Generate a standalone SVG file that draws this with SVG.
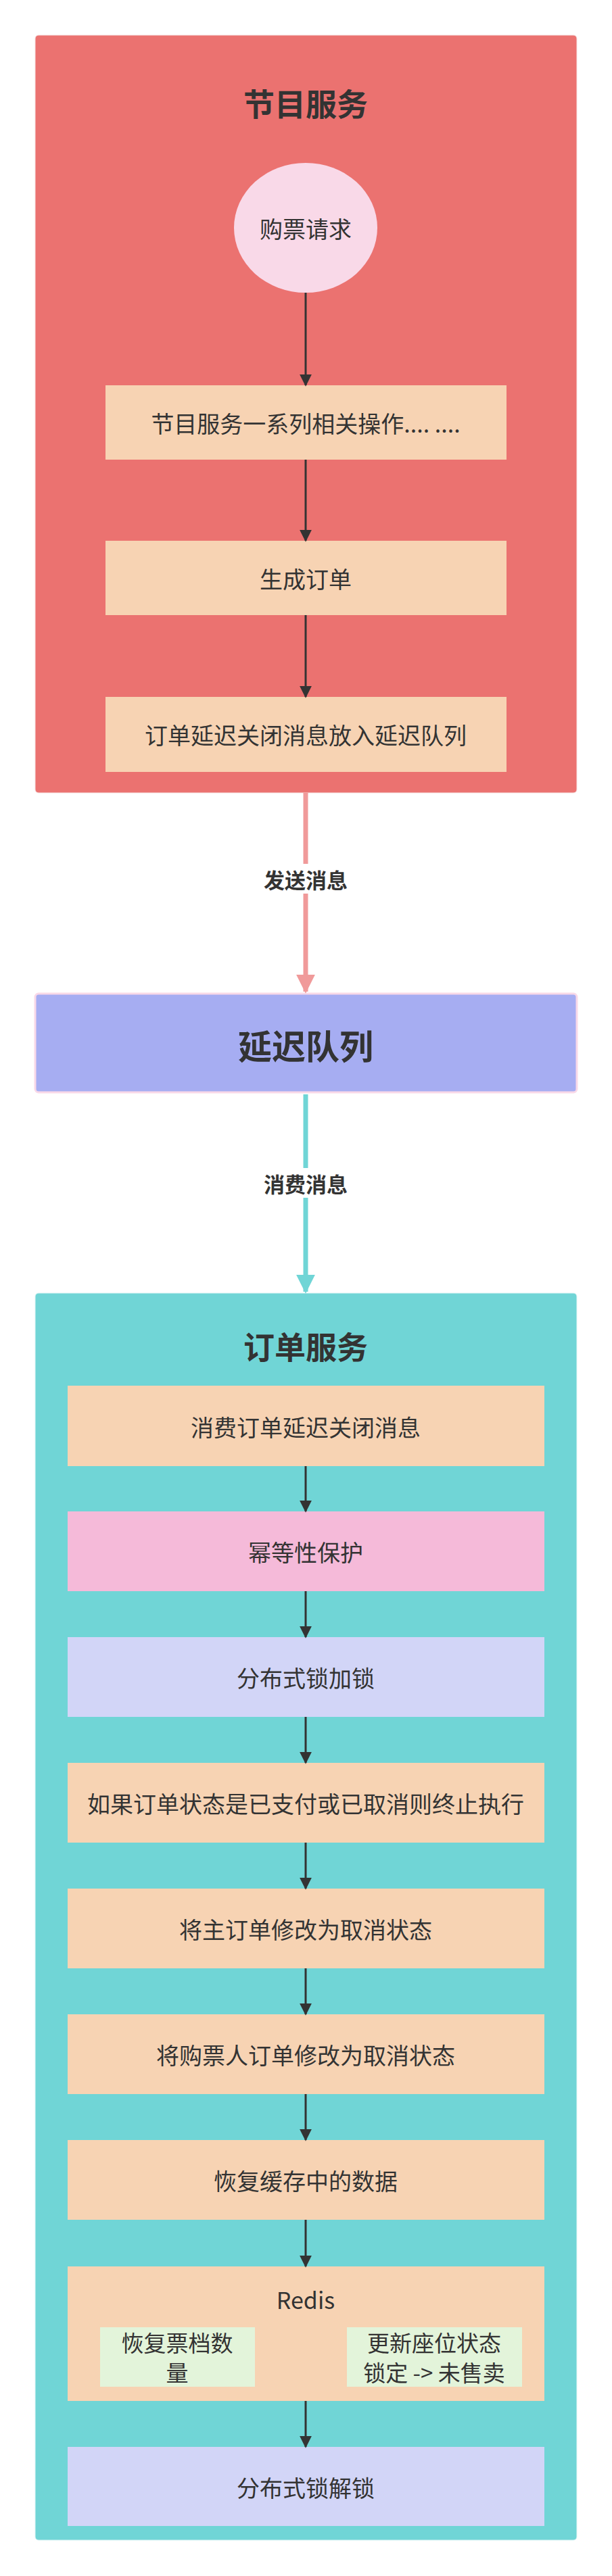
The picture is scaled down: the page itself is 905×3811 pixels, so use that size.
<svg xmlns="http://www.w3.org/2000/svg" width="905" height="3811" viewBox="0 0 905 3811">
<style>
text{font-family:"Noto Sans CJK SC","Liberation Sans",sans-serif;fill:#333;text-anchor:middle;dominant-baseline:central}
.n{font-size:34px}
.s{font-size:33px}
.t{font-size:46px;font-weight:bold}
.l{font-size:31px;font-weight:bold}
.pe{fill:#F7D3B3}
.e{stroke:#333;stroke-width:3;fill:none;marker-end:url(#a)}
</style>
<defs>
<marker id="a" viewBox="0 0 10 10" refX="9" refY="5" markerWidth="6" markerHeight="6" orient="auto"><path d="M0,0L10,5L0,10z" fill="#333"/></marker>
<marker id="r" viewBox="0 0 10 10" refX="9" refY="5" markerWidth="4" markerHeight="4" orient="auto"><path d="M0,0L10,5L0,10z" fill="#F09A9A"/></marker>
<marker id="c" viewBox="0 0 10 10" refX="9" refY="5" markerWidth="4" markerHeight="4" orient="auto"><path d="M0,0L10,5L0,10z" fill="#70D5D6"/></marker>
</defs>
<g id="program-service">
<rect x="52" y="52" width="801" height="1121" rx="5" fill="#EB7270" stroke="#f5e0e0"/>
<text class="t" x="452" y="151">节目服务</text>
</g>
<g id="req"><ellipse cx="452" cy="337" rx="106" ry="96" fill="#F9D9E8"/><text class="n" x="452" y="337">购票请求</text></g>
<g id="p1"><rect class="pe" x="156" y="570" width="593" height="110"/><text class="n" x="452" y="625">节目服务一系列相关操作.... ....</text></g>
<g id="p2"><rect class="pe" x="156" y="800" width="593" height="110"/><text class="n" x="452" y="855">生成订单</text></g>
<g id="p3"><rect class="pe" x="156" y="1031" width="593" height="111"/><text class="n" x="452" y="1086">订单延迟关闭消息放入延迟队列</text></g>
<g id="queue"><rect x="52" y="1470" width="801" height="146" rx="5" fill="#A6ADF2" stroke="#F9D9E8" stroke-width="3"/><text class="t" x="452" y="1545" style="font-size:50px">延迟队列</text></g>
<g id="order-service">
<rect x="52" y="1913" width="801" height="1845" rx="5" fill="#70D5D6" stroke="#e0f5f5"/>
<text class="t" x="452" y="1990">订单服务</text>
</g>
<g id="o1"><rect class="pe" x="100" y="2050" width="705" height="119"/><text class="n" x="452" y="2110">消费订单延迟关闭消息</text></g>
<g id="o2"><rect fill="#F5BAD9" x="100" y="2236" width="705" height="118"/><text class="n" x="452" y="2295">幂等性保护</text></g>
<g id="o3"><rect fill="#D2D5F7" x="100" y="2422" width="705" height="118"/><text class="n" x="452" y="2481">分布式锁加锁</text></g>
<g id="o4"><rect class="pe" x="100" y="2608" width="705" height="118"/><text class="n" x="452" y="2667">如果订单状态是已支付或已取消则终止执行</text></g>
<g id="o5"><rect class="pe" x="100" y="2794" width="705" height="118"/><text class="n" x="452" y="2853">将主订单修改为取消状态</text></g>
<g id="o6"><rect class="pe" x="100" y="2980" width="705" height="118"/><text class="n" x="452" y="3039">将购票人订单修改为取消状态</text></g>
<g id="o7"><rect class="pe" x="100" y="3166" width="705" height="118"/><text class="n" x="452" y="3225">恢复缓存中的数据</text></g>
<g id="redis">
<rect class="pe" x="100" y="3353" width="705" height="199"/>
<text class="n" x="452" y="3401">Redis</text>
<rect fill="#E3F4DA" x="148" y="3443" width="229" height="88"/>
<text class="s" x="262" y="3465">恢复票档数</text><text class="s" x="262" y="3509">量</text>
<rect fill="#E3F4DA" x="513" y="3443" width="259" height="88"/>
<text class="s" x="642" y="3465">更新座位状态</text><text class="s" x="642" y="3509">锁定 -&gt; 未售卖</text>
</g>
<g id="o8"><rect fill="#D2D5F7" x="100" y="3620" width="705" height="117"/><text class="n" x="452" y="3679">分布式锁解锁</text></g>
<g id="connectors">
<line class="e" x1="452" y1="433" x2="452" y2="570"/>
<line class="e" x1="452" y1="680" x2="452" y2="800"/>
<line class="e" x1="452" y1="910" x2="452" y2="1031"/>
<line x1="452" y1="1173" x2="452" y2="1467" stroke="#F09A9A" stroke-width="7" marker-end="url(#r)"/>
<rect x="376" y="1278" width="152" height="44" fill="#fff"/><text class="l" x="452" y="1300">发送消息</text>
<line x1="452" y1="1619" x2="452" y2="1911" stroke="#70D5D6" stroke-width="7" marker-end="url(#c)"/>
<rect x="376" y="1728" width="152" height="44" fill="#fff"/><text class="l" x="452" y="1750">消费消息</text>
<line class="e" x1="452" y1="2169" x2="452" y2="2236"/>
<line class="e" x1="452" y1="2354" x2="452" y2="2422"/>
<line class="e" x1="452" y1="2540" x2="452" y2="2608"/>
<line class="e" x1="452" y1="2726" x2="452" y2="2794"/>
<line class="e" x1="452" y1="2912" x2="452" y2="2980"/>
<line class="e" x1="452" y1="3098" x2="452" y2="3166"/>
<line class="e" x1="452" y1="3284" x2="452" y2="3353"/>
<line class="e" x1="452" y1="3552" x2="452" y2="3620"/>
</g>
</svg>
